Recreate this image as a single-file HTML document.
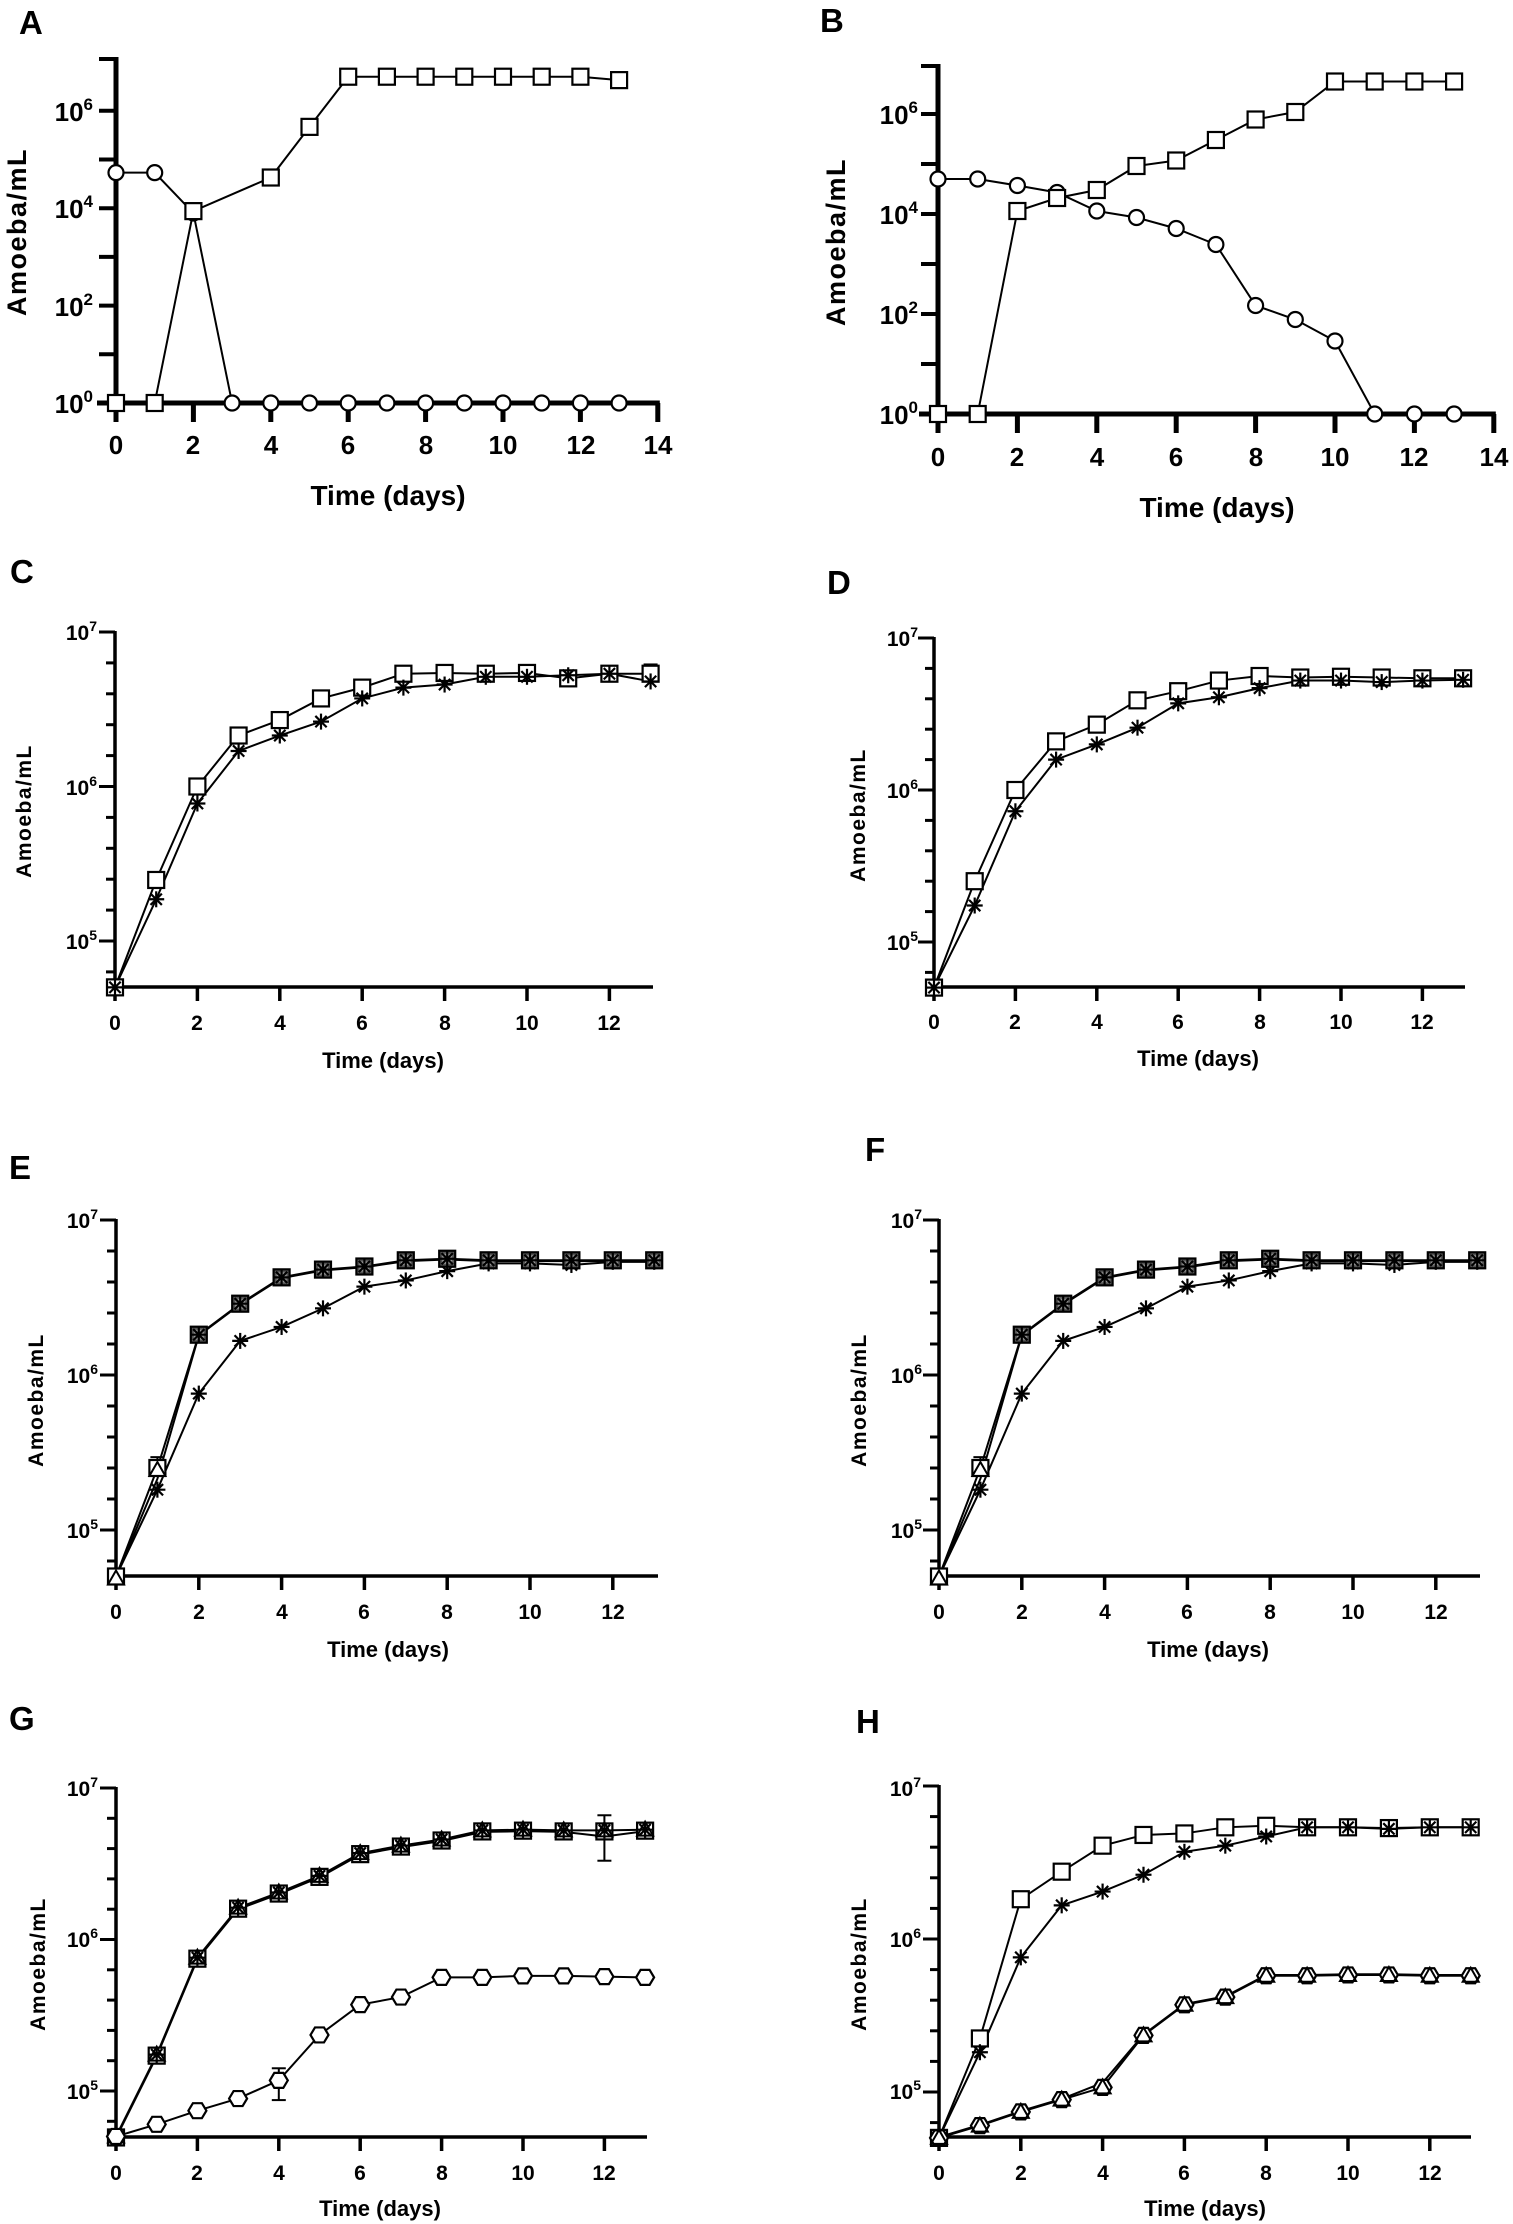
<!DOCTYPE html>
<html><head><meta charset="utf-8"><style>
html,body{margin:0;padding:0;background:#fff}
svg{display:block}
text{font-family:"Liberation Sans",Arial,sans-serif;font-weight:bold;fill:#000}
.pl{font-size:33px}
.tA{font-size:26px}
.tC{font-size:21px}
.yl{font-size:27px;letter-spacing:1.5px}
.ylc{font-size:21px;letter-spacing:1.5px}
.xl{font-size:28px}
.xlc{font-size:22px}
</style></head><body>
<svg id="s" width="1513" height="2224" viewBox="0 0 1513 2224" xmlns="http://www.w3.org/2000/svg">
<rect width="1513" height="2224" fill="#fff"/>
<text class="pl" x="19" y="34">A</text>
<text class="pl" x="820" y="32">B</text>
<text class="pl" x="10" y="583">C</text>
<text class="pl" x="827" y="594">D</text>
<text class="pl" x="9" y="1179">E</text>
<text class="pl" x="865" y="1161">F</text>
<text class="pl" x="9" y="1730">G</text>
<text class="pl" x="856" y="1733">H</text>

<text class="yl" transform="translate(26,232) rotate(-90)" text-anchor="middle">Amoeba/mL</text>
<text class="yl" transform="translate(845,242) rotate(-90)" text-anchor="middle">Amoeba/mL</text>
<text class="ylc" transform="translate(31,811) rotate(-90)" text-anchor="middle">Amoeba/mL</text>
<text class="ylc" transform="translate(865,815) rotate(-90)" text-anchor="middle">Amoeba/mL</text>
<text class="ylc" transform="translate(43,1400) rotate(-90)" text-anchor="middle">Amoeba/mL</text>
<text class="ylc" transform="translate(866,1400) rotate(-90)" text-anchor="middle">Amoeba/mL</text>
<text class="ylc" transform="translate(45,1964) rotate(-90)" text-anchor="middle">Amoeba/mL</text>
<text class="ylc" transform="translate(866,1964) rotate(-90)" text-anchor="middle">Amoeba/mL</text>

<text class="xl" x="388" y="505" text-anchor="middle">Time (days)</text>
<text class="xl" x="1217" y="517" text-anchor="middle">Time (days)</text>
<text class="xlc" x="383" y="1068" text-anchor="middle">Time (days)</text>
<text class="xlc" x="1198" y="1066" text-anchor="middle">Time (days)</text>
<text class="xlc" x="388" y="1657" text-anchor="middle">Time (days)</text>
<text class="xlc" x="1208" y="1657" text-anchor="middle">Time (days)</text>
<text class="xlc" x="380" y="2216" text-anchor="middle">Time (days)</text>
<text class="xlc" x="1205" y="2216" text-anchor="middle">Time (days)</text>

<g class="tA" text-anchor="end">
<text x="93" y="413">10<tspan dy="-11" font-size="17">0</tspan></text>
<text x="93" y="316">10<tspan dy="-11" font-size="17">2</tspan></text>
<text x="93" y="218">10<tspan dy="-11" font-size="17">4</tspan></text>
<text x="93" y="121">10<tspan dy="-11" font-size="17">6</tspan></text>
<text x="918" y="424">10<tspan dy="-11" font-size="17">0</tspan></text>
<text x="918" y="324">10<tspan dy="-11" font-size="17">2</tspan></text>
<text x="918" y="224">10<tspan dy="-11" font-size="17">4</tspan></text>
<text x="918" y="124">10<tspan dy="-11" font-size="17">6</tspan></text>
</g>
<g class="tA" text-anchor="middle">
<text x="116" y="454">0</text><text x="193" y="454">2</text><text x="271" y="454">4</text><text x="348" y="454">6</text><text x="426" y="454">8</text><text x="503" y="454">10</text><text x="581" y="454">12</text><text x="658" y="454">14</text>
<text x="938" y="466">0</text><text x="1017" y="466">2</text><text x="1097" y="466">4</text><text x="1176" y="466">6</text><text x="1256" y="466">8</text><text x="1335" y="466">10</text><text x="1414" y="466">12</text><text x="1494" y="466">14</text>
</g>
<g class="tC" text-anchor="end">
<text x="97" y="640">10<tspan dy="-9" font-size="14">7</tspan></text>
<text x="97" y="795">10<tspan dy="-9" font-size="14">6</tspan></text>
<text x="97" y="949">10<tspan dy="-9" font-size="14">5</tspan></text>
<text x="918" y="646">10<tspan dy="-9" font-size="14">7</tspan></text>
<text x="918" y="798">10<tspan dy="-9" font-size="14">6</tspan></text>
<text x="918" y="950">10<tspan dy="-9" font-size="14">5</tspan></text>
<text x="98" y="1228">10<tspan dy="-9" font-size="14">7</tspan></text>
<text x="98" y="1383">10<tspan dy="-9" font-size="14">6</tspan></text>
<text x="98" y="1538">10<tspan dy="-9" font-size="14">5</tspan></text>
<text x="922" y="1228">10<tspan dy="-9" font-size="14">7</tspan></text>
<text x="922" y="1383">10<tspan dy="-9" font-size="14">6</tspan></text>
<text x="922" y="1538">10<tspan dy="-9" font-size="14">5</tspan></text>
<text x="98" y="1796">10<tspan dy="-9" font-size="14">7</tspan></text>
<text x="98" y="1947">10<tspan dy="-9" font-size="14">6</tspan></text>
<text x="98" y="2099">10<tspan dy="-9" font-size="14">5</tspan></text>
<text x="921" y="1796">10<tspan dy="-9" font-size="14">7</tspan></text>
<text x="921" y="1947">10<tspan dy="-9" font-size="14">6</tspan></text>
<text x="921" y="2099">10<tspan dy="-9" font-size="14">5</tspan></text>
</g>
<g class="tC" text-anchor="middle">
<text x="115" y="1030">0</text><text x="197" y="1030">2</text><text x="280" y="1030">4</text><text x="362" y="1030">6</text><text x="445" y="1030">8</text><text x="527" y="1030">10</text><text x="609" y="1030">12</text>
<text x="934" y="1029">0</text><text x="1015" y="1029">2</text><text x="1097" y="1029">4</text><text x="1178" y="1029">6</text><text x="1260" y="1029">8</text><text x="1341" y="1029">10</text><text x="1422" y="1029">12</text>
<text x="116" y="1619">0</text><text x="199" y="1619">2</text><text x="282" y="1619">4</text><text x="364" y="1619">6</text><text x="447" y="1619">8</text><text x="530" y="1619">10</text><text x="613" y="1619">12</text>
<text x="939" y="1619">0</text><text x="1022" y="1619">2</text><text x="1105" y="1619">4</text><text x="1187" y="1619">6</text><text x="1270" y="1619">8</text><text x="1353" y="1619">10</text><text x="1436" y="1619">12</text>
<text x="116" y="2180">0</text><text x="197" y="2180">2</text><text x="279" y="2180">4</text><text x="360" y="2180">6</text><text x="442" y="2180">8</text><text x="523" y="2180">10</text><text x="604" y="2180">12</text>
<text x="939" y="2180">0</text><text x="1021" y="2180">2</text><text x="1103" y="2180">4</text><text x="1184" y="2180">6</text><text x="1266" y="2180">8</text><text x="1348" y="2180">10</text><text x="1430" y="2180">12</text>
</g>
<g id="g"></g>
</svg>
<script>
var NS="http://www.w3.org/2000/svg",G=document.getElementById("g");
function el(t,a){var e=document.createElementNS(NS,t);for(var k in a)e.setAttribute(k,a[k]);G.appendChild(e);return e;}
function ln(x1,y1,x2,y2,w){el("line",{x1:x1,y1:y1,x2:x2,y2:y2,stroke:"#000","stroke-width":w||2});}
function sq(x,y,f){el("rect",{x:x-8,y:y-8,width:16,height:16,fill:f||"#fff",stroke:"#000","stroke-width":2.2});}
function ci(x,y){el("circle",{cx:x,cy:y,r:7.5,fill:"#fff",stroke:"#000","stroke-width":2.2});}
function st(x,y){for(var a=0;a<4;a++){var t=a*Math.PI/4,c=Math.cos(t)*8,s=Math.sin(t)*8;ln(x-c,y-s,x+c,y+s,2.2);}}
function hx(x,y){el("polygon",{points:[x-9,y,x-4.5,y-7.5,x+4.5,y-7.5,x+9,y,x+4.5,y+7.5,x-4.5,y+7.5].join(","),fill:"#fff",stroke:"#000","stroke-width":2.2});}
function tr(x,y){el("polygon",{points:[x,y-8,x+8,y+6,x-8,y+6].join(","),fill:"none",stroke:"#000","stroke-width":2});}
function dark(x,y){sq(x,y,"#555");el("rect",{x:x-5,y:y-5,width:10,height:10,fill:"#999"});st(x,y);}
function P(o){o.X=function(d){return o.x0+d*o.dx};o.Y=function(l){return o.yref-(l-o.ref)*o.dec};return o;}
function axesA(p,tmax){
 ln(p.x0,p.top,p.x0,p.yax+2,5);
 ln(p.x0-19,p.yax,p.X(tmax)+2,p.yax,5);
 for(var l=0;l<=6;l++)ln(p.x0-17,p.Y(l),p.x0,p.Y(l),4);
 ln(p.x0-17,p.top+2,p.x0,p.top+2,4);
 for(var d=0;d<=tmax;d+=2)ln(p.X(d),p.yax,p.X(d),p.yax+19,5);
}
function axesC(p){
 ln(p.x0,p.Y(7)-1,p.x0,p.yax+1.5,3.5);
 ln(p.x0-1.5,p.yax,p.xend,p.yax,3.5);
 for(var l=4.8;l<=7.001;l+=0.2){var maj=Math.abs(l-Math.round(l))<0.01;ln(p.x0-(maj?16:9),p.Y(l),p.x0,p.Y(l),3);}
 for(var d=0;d<=12;d+=2)ln(p.X(d),p.yax,p.X(d),p.yax+14,3.5);
}
function series(p,data){
 var pts=data.map(function(v){return [p.X(v[0]),p.Y(v[1])]});
 el("polyline",{points:pts.map(function(q){return q.join(",")}).join(" "),fill:"none",stroke:"#000","stroke-width":2});
 return pts;
}
function marks(pts,mk){pts.forEach(function(q){mk(q[0],q[1])});}
function seq(arr){return arr.map(function(v,i){return [i,v]});}
function eb(p,d,lo,hi){var x=p.X(d);ln(x,p.Y(lo),x,p.Y(hi),2);ln(x-7,p.Y(hi),x+7,p.Y(hi),2);ln(x-7,p.Y(lo),x+7,p.Y(lo),2);}

var A=P({x0:116,dx:38.7,ref:0,yref:403,dec:48.7,yax:403,top:57});
axesA(A,14);
var aS=[[0,0],[1,0],[2,3.94],[4,4.63],[5,5.67],[6,6.70],[7,6.70],[8,6.70],[9,6.70],[10,6.70],[11,6.70],[12,6.70],[13,6.63]];
var aC=[[0,4.73],[1,4.73],[2,3.9]];for(var i=3;i<=13;i++)aC.push([i,0]);
var p1=series(A,aS),p2=series(A,aC);marks(p2,ci);marks(p1,sq);
var B=P({x0:938,dx:39.7,ref:0,yref:414,dec:50,yax:414,top:64});
axesA(B,14);
var bS=seq([0,0,4.06,4.32,4.48,4.96,5.07,5.48,5.89,6.04,6.65,6.65,6.65,6.65]);
var bC=seq([4.70,4.70,4.57,4.43,4.06,3.93,3.71,3.39,2.17,1.89,1.46,0,0,0]);
p1=series(B,bS);p2=series(B,bC);marks(p2,ci);marks(p1,sq);
var C=P({x0:115,dx:41.2,ref:7,yref:632,dec:154.5,yax:987,xend:653});
axesC(C);
var cS=seq([4.70,5.395,6.0,6.33,6.43,6.57,6.64,6.73,6.735,6.73,6.735,6.70,6.73,6.73]);
var cT=seq([4.70,5.27,5.89,6.23,6.33,6.42,6.57,6.64,6.66,6.71,6.71,6.72,6.73,6.68]);
eb(C,13,6.73,6.79);
p1=series(C,cS);p2=series(C,cT);marks(p1,sq);marks(p2,st);
var D=P({x0:934,dx:40.7,ref:7,yref:638,dec:152,yax:987,xend:1465});
axesC(D);
var dS=seq([4.70,5.40,6.0,6.32,6.43,6.59,6.65,6.72,6.75,6.74,6.745,6.74,6.735,6.735]);
var dT=seq([4.70,5.24,5.86,6.20,6.30,6.41,6.57,6.61,6.67,6.72,6.72,6.71,6.72,6.725]);
p1=series(D,dS);p2=series(D,dT);marks(p1,sq);marks(p2,st);
var eS=[4.70,5.40,6.26,6.46,6.63,6.68,6.70,6.74,6.75,6.74,6.74,6.74,6.74,6.74];
var eT=[4.70,5.26,5.88,6.22,6.31,6.43,6.57,6.61,6.67,6.72,6.72,6.71,6.73,6.73];
[P({x0:116,dx:41.4,ref:7,yref:1220,dec:155,yax:1576,xend:658}),P({x0:939,dx:41.4,ref:7,yref:1220,dec:155,yax:1576,xend:1480})].forEach(function(E){
 axesC(E);
 var s1=series(E,seq(eS));series(E,seq(eS.map(function(v,i){return i==1?5.33:v-0.005})));
 var s3=series(E,seq(eT));
 eb(E,1,5.40,5.47);
 marks(s3,st);
 s1.forEach(function(q,i){if(i<=1){sq(q[0],q[1]);tr(q[0],q[1]+2);}else dark(q[0],q[1]);});
});
var Gp=P({x0:116,dx:40.7,ref:7,yref:1788,dec:151.5,yax:2137,xend:647});
axesC(Gp);
var gT=[4.70,5.24,5.88,6.21,6.31,6.42,6.57,6.62,6.66,6.72,6.725,6.72,6.72,6.725];
var gH=[4.70,4.78,4.87,4.95,5.07,5.37,5.57,5.62,5.75,5.75,5.76,5.76,5.755,5.75];
p1=series(Gp,seq(gT));series(Gp,seq(gT.map(function(v,i){return i==12?6.68:v-0.01})));
eb(Gp,12,6.52,6.82);eb(Gp,4,4.94,5.15);
p2=series(Gp,seq(gH));
p1.forEach(function(q){sq(q[0],q[1]+1,"#fff");st(q[0],q[1]);tr(q[0],q[1]);});
marks(p2,hx);
var H=P({x0:939,dx:40.9,ref:7,yref:1786,dec:153,yax:2137,xend:1471});
axesC(H);
var hS=[4.70,5.35,6.26,6.44,6.61,6.68,6.69,6.73,6.74,6.73,6.73,6.725,6.73,6.73];
var hT=[4.70,5.26,5.88,6.22,6.31,6.42,6.57,6.61,6.67,6.73,6.73,6.72,6.73,6.73];
var hH=[4.70,4.78,4.87,4.95,5.03,5.37,5.57,5.62,5.76,5.76,5.765,5.765,5.76,5.76];
p1=series(H,seq(hS));p2=series(H,seq(hT));
var p3=series(H,seq(hH));series(H,seq(hH.map(function(v,i){return i==4?5.06:v+0.005})));
marks(p1,sq);marks(p2,st);
p3.forEach(function(q){hx(q[0],q[1]);tr(q[0],q[1]);});
</script>
</body></html>
